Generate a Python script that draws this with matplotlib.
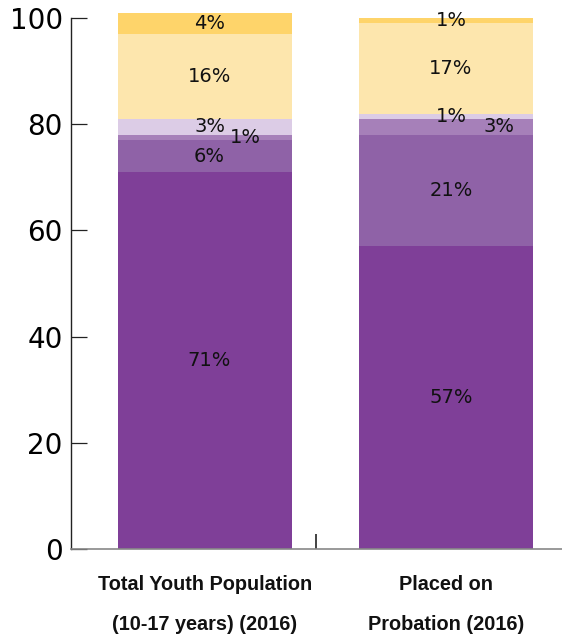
import numpy as np
import matplotlib
matplotlib.use("Agg")
import matplotlib.pyplot as plt

# data (percent of each group)
groups = ["Total Youth Population\n(10-17 years) (2016)", "Placed on\nProbation (2016)"]
seg1 = [71, 57]   # dark purple
seg2 = [6, 21]    # medium purple
seg3 = [1, 3]     # light purple
seg4 = [3, 1]     # lavender
seg5 = [16, 17]   # light yellow
seg6 = [4, 1]     # gold
segments = [seg1, seg2, seg3, seg4, seg5, seg6]
labels = [[f"{v}%" for v in s] for s in segments]

colors = ["#7f3f98", "#8f62a7", "#a680b9", "#dccce6", "#fde6ad", "#fed46a"]
# horizontal label nudge for the thin segment, per bar
nudge3 = [0.17, 0.22]

fig = plt.figure(figsize=(5.62, 6.42), dpi=100)
ax = fig.add_axes([0.1263, 0.1449, 0.8737, 0.8436])

x = np.arange(len(groups))
bottom = np.zeros(len(groups))
for i, s in enumerate(segments):
    vals = np.array(s, dtype=float)
    ax.bar(x, vals, bottom=bottom, width=0.72, color=colors[i], linewidth=0)
    for j in range(len(groups)):
        xx = x[j] + (nudge3[j] if i == 2 else 0.02)
        ax.text(xx, bottom[j] + vals[j] / 2, labels[i][j], ha="center", va="center",
                fontsize=14, color="#111111", family="DejaVu Sans")
    bottom += vals

ax.set_xlim(-0.554, 1.48)
ax.set_ylim(0, 102)

for side in ["top", "right"]:
    ax.spines[side].set_visible(False)
ax.spines["left"].set_bounds(0, 100)
ax.spines["left"].set_color("#222222")
ax.spines["left"].set_linewidth(1.0)
ax.spines["bottom"].set_color("#888888")
ax.spines["bottom"].set_linewidth(1.2)

ax.set_yticks([0, 20, 40, 60, 80, 100])
ax.tick_params(axis="y", direction="in", length=11.5, width=0.9, color="#222222",
               labelsize=20, pad=6)
for t in ax.get_yticklabels():
    t.set_family("DejaVu Sans")

ax.set_xticks(x)
ax.set_xticklabels(groups)
ax.set_xticks([0.459], minor=True)
ax.tick_params(axis="x", which="major", length=0, pad=19)
ax.tick_params(axis="x", which="minor", direction="in", length=11, width=1.2, color="#222222")
for t in ax.get_xticklabels():
    t.set_family(["Liberation Sans Narrow", "Liberation Sans", "DejaVu Sans"])
    t.set_weight("bold")
    t.set_fontsize(14.3)
    t.set_linespacing(2.35)
    t.set_color("#111111")

fig.savefig("out.png", dpi=100)
